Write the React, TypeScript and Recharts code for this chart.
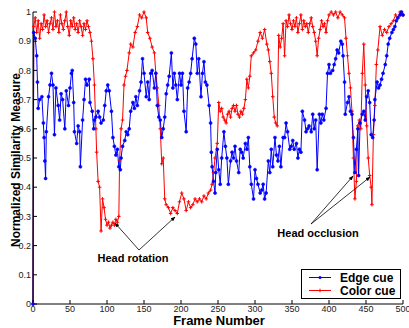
import { LineChart, Line, XAxis, YAxis, Legend } from 'recharts';

const edgeFrames = [
  0, 1, 3, 5, 6, 7, 9, 12, 14, 15, 16, 17, 18, 21, 23, 25, 27, 29, 31, 34, 36, 38, 40, 43, 45, 48, 50, 52, 53, 55, 56, 59,
  61, 63, 64, 67, 69, 71, 73, 76, 77, 80, 82, 83, 85, 88, 90, 92, 95, 97, 99, 101, 103, 106, 108, 110, 112, 114, 116, 118,
  119, 121, 124, 126, 128, 130, 132, 135, 137, 139, 141, 144, 146, 148, 150, 153, 155, 157, 159, 161, 164, 166, 168, 170,
  172, 174, 176, 178, 180, 182, 184, 187, 189, 191, 193, 195, 198, 200, 202, 204, 207, 209, 211, 213, 215, 218, 220, 222,
  224, 227, 229, 231, 233, 235, 238, 240, 241, 242, 244, 246, 247, 249, 251, 253, 255, 258, 260, 262, 264, 267, 269, 271,
  273, 275, 278, 280, 282, 284, 287, 289, 291, 293, 295, 298, 300, 302, 304, 307, 309, 311, 313, 315, 318, 320, 322, 324,
  327, 329, 331, 333, 335, 338, 340, 342, 344, 347, 349, 351, 353, 356, 358, 360, 362, 364, 367, 369, 371, 373, 376, 378,
  380, 382, 384, 387, 389, 391, 393, 396, 398, 400, 402, 405, 407, 409, 411, 413, 416, 418, 419, 421, 422, 425, 427, 429,
  431, 433, 435, 437, 439, 440, 442, 445, 447, 449, 451, 453, 455, 457, 459, 461, 462, 465, 467, 469, 471, 473, 476, 478,
  480, 482, 485, 487, 489, 491, 493, 496, 498, 500,
];
const edgeValues = [
  0, 0.93, 0.91, 0.85, 0.76, 0.67, 0.7, 0.71, 0.62, 0.57, 0.49, 0.43, 0.59, 0.71, 0.75, 0.79, 0.75, 0.58, 0.74, 0.68, 0.63,
  0.72, 0.7, 0.6, 0.73, 0.68, 0.74, 0.79, 0.8, 0.69, 0.59, 0.55, 0.61, 0.59, 0.47, 0.63, 0.7, 0.77, 0.75, 0.77, 0.69, 0.66,
  0.6, 0.63, 0.64, 0.66, 0.64, 0.62, 0.63, 0.68, 0.73, 0.75, 0.73, 0.66, 0.57, 0.54, 0.51, 0.53, 0.47, 0.46, 0.5, 0.54,
  0.56, 0.59, 0.58, 0.6, 0.66, 0.69, 0.67, 0.71, 0.68, 0.73, 0.76, 0.84, 0.79, 0.71, 0.76, 0.7, 0.79, 0.8, 0.74, 0.79,
  0.68, 0.64, 0.63, 0.57, 0.6, 0.64, 0.72, 0.75, 0.78, 0.86, 0.74, 0.79, 0.75, 0.7, 0.79, 0.75, 0.79, 0.66, 0.59, 0.74,
  0.76, 0.79, 0.84, 0.91, 0.89, 0.79, 0.84, 0.71, 0.79, 0.83, 0.76, 0.75, 0.68, 0.62, 0.52, 0.47, 0.42, 0.38, 0.45, 0.53,
  0.46, 0.41, 0.5, 0.59, 0.54, 0.5, 0.41, 0.49, 0.52, 0.5, 0.54, 0.49, 0.45, 0.53, 0.52, 0.5, 0.55, 0.53, 0.57, 0.47, 0.41,
  0.36, 0.46, 0.43, 0.41, 0.38, 0.39, 0.41, 0.36, 0.38, 0.49, 0.45, 0.53, 0.47, 0.57, 0.51, 0.49, 0.54, 0.47, 0.57, 0.57,
  0.62, 0.59, 0.53, 0.54, 0.56, 0.53, 0.55, 0.5, 0.53, 0.52, 0.66, 0.63, 0.59, 0.6, 0.61, 0.59, 0.65, 0.6, 0.63, 0.46,
  0.65, 0.62, 0.65, 0.63, 0.67, 0.79, 0.82, 0.79, 0.8, 0.82, 0.84, 0.87, 0.86, 0.9, 0.89, 0.85, 0.76, 0.65, 0.69, 0.71,
  0.66, 0.65, 0.57, 0.45, 0.53, 0.6, 0.44, 0.62, 0.65, 0.66, 0.63, 0.71, 0.73, 0.69, 0.58, 0.57, 0.63, 0.7, 0.76, 0.74,
  0.75, 0.77, 0.79, 0.82, 0.85, 0.89, 0.91, 0.93, 0.94, 0.95, 0.97, 0.98, 0.99, 1.0, 0.99,
];

const colorFrames = [
  0, 1, 3, 5, 7, 9, 11, 13, 15, 17, 19, 21, 23, 25, 27, 29, 31, 33, 35, 37, 39, 41, 43, 45, 47, 49, 51, 53, 55, 57, 59, 61,
  63, 65, 67, 69, 71, 73, 75, 77, 79, 81, 83, 85, 86, 88, 90, 92, 94, 96, 98, 100, 102, 104, 106, 108, 110, 112, 114, 116,
  117, 119, 121, 123, 125, 127, 130, 132, 135, 138, 141, 144, 147, 150, 153, 155, 158, 161, 164, 166, 168, 170, 172, 174,
  176, 178, 180, 183, 186, 189, 192, 195, 198, 201, 204, 207, 210, 213, 216, 219, 222, 225, 228, 231, 234, 237, 240, 242,
  244, 246, 249, 251, 253, 255, 257, 259, 261, 263, 265, 267, 269, 271, 273, 275, 277, 279, 281, 283, 285, 287, 289, 291,
  293, 295, 298, 301, 304, 307, 310, 313, 316, 318, 320, 322, 324, 326, 328, 330, 332, 334, 336, 338, 340, 342, 344, 346,
  348, 350, 352, 354, 356, 358, 360, 362, 364, 366, 368, 370, 372, 374, 376, 378, 380, 382, 384, 386, 388, 390, 392, 394,
  396, 398, 400, 403, 406, 409, 412, 415, 418, 421, 423, 425, 427, 429, 431, 433, 435, 437, 439, 441, 443, 445, 447, 449,
  451, 453, 455, 457, 458, 460, 462, 464, 466, 469, 472, 475, 478, 481, 484, 487, 490, 493, 496, 500,
];
const colorValues = [
  0, 0.95, 0.98, 0.93, 0.97, 0.91, 0.96, 0.94, 0.99, 0.95, 0.97, 0.93, 0.96, 0.98, 0.94, 1.0, 0.95, 0.97, 0.93, 0.99, 0.96,
  0.94, 0.97, 1.0, 0.95, 0.92, 0.97, 0.95, 0.98, 0.94, 0.96, 0.93, 0.97, 0.95, 0.92, 0.96, 0.94, 0.97, 0.95, 0.93, 0.9,
  0.84, 0.75, 0.6, 0.52, 0.42, 0.4, 0.25, 0.36, 0.33, 0.29, 0.27, 0.28, 0.26, 0.27, 0.28, 0.27, 0.29, 0.28, 0.3, 0.49,
  0.6, 0.63, 0.75, 0.78, 0.8, 0.86, 0.89, 0.88, 0.93, 0.95, 0.99, 0.98, 1.0, 0.98, 0.93, 0.91, 0.88, 0.86, 0.79, 0.74,
  0.68, 0.6, 0.48, 0.5, 0.36, 0.34, 0.33, 0.31, 0.33, 0.32, 0.31, 0.35, 0.38, 0.36, 0.32, 0.35, 0.33, 0.34, 0.36, 0.35,
  0.36, 0.35, 0.37, 0.36, 0.38, 0.39, 0.41, 0.45, 0.5, 0.55, 0.69, 0.66, 0.67, 0.64, 0.63, 0.62, 0.65, 0.66, 0.64, 0.67,
  0.68, 0.66, 0.68, 0.65, 0.64, 0.66, 0.65, 0.67, 0.7, 0.77, 0.74, 0.78, 0.85, 0.86, 0.87, 0.9, 0.93, 0.91, 0.94, 0.89,
  0.87, 0.83, 0.79, 0.71, 0.64, 0.62, 0.61, 0.92, 0.88, 0.91, 0.96, 0.85, 0.97, 0.95, 0.99, 0.96, 0.94, 0.97, 0.95, 0.98,
  0.93, 0.96, 0.99, 0.94, 0.97, 0.95, 0.96, 0.93, 0.96, 0.98, 0.95, 0.93, 0.9, 0.85, 0.91, 0.94, 0.97, 0.95, 0.96, 0.93,
  0.97, 0.99, 1.0, 0.99, 1.0, 0.98, 1.0, 0.99, 0.98, 0.91, 0.85, 0.79, 0.74, 0.66, 0.5, 0.36, 0.42, 0.61, 0.63, 0.6, 0.79,
  0.89, 0.75, 0.61, 0.5, 0.44, 0.4, 0.34, 0.58, 0.68, 0.82, 0.87, 0.95, 0.92, 0.94, 0.93, 0.95, 0.96, 0.97, 0.99, 0.98,
  1.0, 0.99,
];

const xTicks = [0, 50, 100, 150, 200, 250, 300, 350, 400, 450, 500];
const yTicks = [0, 0.1, 0.2, 0.3, 0.4, 0.5, 0.6, 0.7, 0.8, 0.9, 1];

const edgeData = edgeFrames.map((frame, i) => ({ frame, value: edgeValues[i] }));
const colorData = colorFrames.map((frame, i) => ({ frame, value: colorValues[i] }));

const FONT = '"Liberation Sans", Arial, Helvetica, sans-serif';
const BLUE = '#0000ff';
const RED = '#ff0000';

function PlusDot(props: any) {
  const { cx, cy, index } = props;
  if (cx == null || cy == null) return null;
  return (
    <path
      key={`p-${index}`}
      d={`M${cx - 1.8},${cy}H${cx + 1.8}M${cx},${cy - 1.8}V${cy + 1.8}`}
      stroke={RED}
      strokeWidth={1}
    />
  );
}

function LegendBox() {
  const row = (label: string, color: string, plus: boolean) => (
    <div style={{ display: 'flex', alignItems: 'center', height: 13 }}>
      <svg width={32} height={13} style={{ marginLeft: 6 }}>
        <line x1={1} x2={23} y1={6.5} y2={6.5} stroke={color} strokeWidth={1} />
        {plus ? (
          <path d="M10.2,6.5H13.8M12,4.7V8.3" stroke={color} strokeWidth={1} />
        ) : (
          <circle cx={12} cy={6.5} r={1.5} fill={color} />
        )}
      </svg>
      <span style={{ fontFamily: FONT, fontWeight: 'bold', fontSize: 12, color: '#000' }}>{label}</span>
    </div>
  );
  return (
    <div
      style={{
        width: 100,
        height: 30,
        boxSizing: 'border-box',
        border: '1px solid #000',
        background: '#fff',
        paddingTop: 1,
      }}
    >
      {row('Edge cue', BLUE, false)}
      {row('Color cue', RED, true)}
    </div>
  );
}

export default function App() {
  const tickStyle = { fontSize: 9, fill: '#222', fontFamily: FONT };
  return (
    <div style={{ position: 'absolute', left: 0, top: 0, width: 409, height: 328, background: '#fff' }}>
      <LineChart width={409} height={328} margin={{ top: 12, right: 6, bottom: 0, left: 0 }}>
        <XAxis
          xAxisId="bottom"
          type="number"
          dataKey="frame"
          domain={[0, 500]}
          ticks={xTicks}
          height={24}
          tickSize={-4}
          tickMargin={6}
          stroke="#000"
          tick={tickStyle}
          interval={0}
        />
        <XAxis
          xAxisId="top"
          orientation="top"
          type="number"
          dataKey="frame"
          domain={[0, 500]}
          ticks={xTicks}
          height={0}
          tickSize={-4}
          tickFormatter={() => ''}
          stroke="#000"
          interval={0}
        />
        <YAxis
          yAxisId="left"
          type="number"
          domain={[0, 1]}
          ticks={yTicks}
          width={33}
          tickSize={-4}
          tickMargin={6}
          stroke="#000"
          tick={tickStyle}
          interval={0}
        />
        <YAxis
          yAxisId="right"
          orientation="right"
          type="number"
          domain={[0, 1]}
          ticks={yTicks}
          width={0}
          tickSize={-4}
          tickFormatter={() => ''}
          stroke="#000"
          interval={0}
        />
        <Line
          xAxisId="bottom"
          yAxisId="left"
          data={colorData}
          dataKey="value"
          name="Color cue"
          type="linear"
          stroke={RED}
          strokeWidth={1}
          dot={PlusDot}
          activeDot={false}
          isAnimationActive={false}
        />
        <Line
          xAxisId="bottom"
          yAxisId="left"
          data={edgeData}
          dataKey="value"
          name="Edge cue"
          type="linear"
          stroke={BLUE}
          strokeWidth={1}
          dot={{ r: 1.5, fill: BLUE, stroke: BLUE, strokeWidth: 0.6 }}
          activeDot={false}
          isAnimationActive={false}
        />
        <Legend
          layout="horizontal"
          verticalAlign="middle"
          align="center"
          content={() => <LegendBox />}
          wrapperStyle={{ left: 301, top: 269, width: 100, height: 30 }}
        />
      </LineChart>
      <svg
        width={409}
        height={328}
        style={{ position: 'absolute', left: 0, top: 0, pointerEvents: 'none' }}
      >
        <defs>
          <marker id="arr" viewBox="0 0 10 10" refX={9} refY={5} markerWidth={6} markerHeight={6} orient="auto">
            <path d="M0,1 L10,5 L0,9 z" fill="#000" />
          </marker>
        </defs>
        <line x1={139} y1={250} x2={115} y2={223} stroke="#000" strokeWidth={0.8} markerEnd="url(#arr)" />
        <line x1={139} y1={250} x2={175} y2={217} stroke="#000" strokeWidth={0.8} markerEnd="url(#arr)" />
        <line x1={311} y1={224} x2={353} y2={176} stroke="#000" strokeWidth={0.8} markerEnd="url(#arr)" />
        <line x1={311} y1={224} x2={370} y2={177} stroke="#000" strokeWidth={0.8} markerEnd="url(#arr)" />
        <text x={133} y={262} textAnchor="middle" fontFamily={FONT} fontWeight="bold" fontSize={11} fill="#000">
          Head rotation
        </text>
        <text x={318} y={237} textAnchor="middle" fontFamily={FONT} fontWeight="bold" fontSize={11} fill="#000">
          Head occlusion
        </text>
        <text x={219} y={325} textAnchor="middle" fontFamily={FONT} fontWeight="bold" fontSize={13} fill="#000">
          Frame Number
        </text>
        <text
          x={0}
          y={0}
          transform="translate(20,160) rotate(-90)"
          textAnchor="middle"
          fontFamily={FONT}
          fontWeight="bold"
          fontSize={12}
          fill="#000"
        >
          Normalized Similarity Measure
        </text>
      </svg>
    </div>
  );
}
